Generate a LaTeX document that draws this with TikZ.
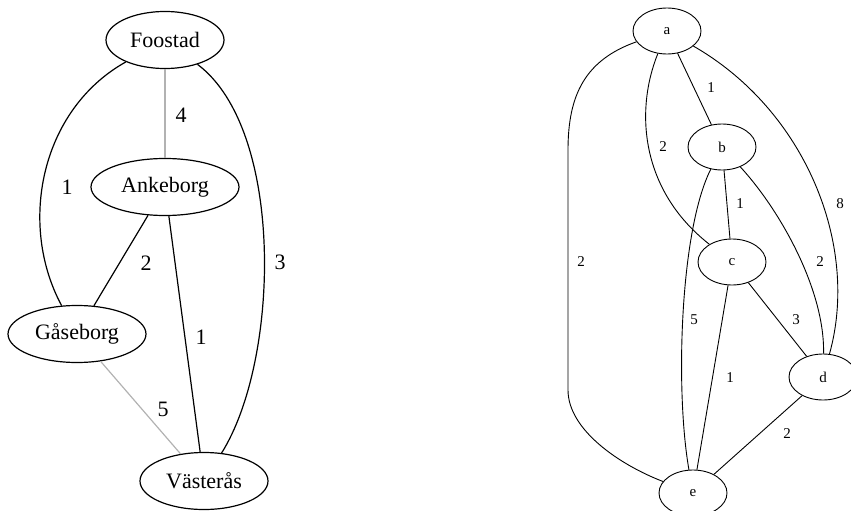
\documentclass[tikz,border=0pt]{standalone}
\usepackage{fontspec}
\setmainfont{Liberation Serif}
\usetikzlibrary{shapes.geometric}

\begin{document}
\begin{tikzpicture}[x=1pt, y=1pt,
  town/.style={ellipse, draw, line width=1.2pt, inner sep=0pt, minimum height=57pt,
               font=\fontsize{22}{26}\selectfont},
  road/.style={line width=1.2pt},
  lightroad/.style={line width=1.2pt, black!30},
  wlabel/.style={font=\fontsize{22}{26}\selectfont},
  vertex/.style={ellipse, draw, line width=0.9pt, inner sep=0pt, minimum width=68pt,
                 minimum height=46pt, font=\fontsize{15}{18}\selectfont},
  arc/.style={line width=0.9pt},
  alabel/.style={font=\fontsize{15}{18}\selectfont}]

\useasboundingbox (0,0) rectangle (851,-511);

%------------------ LEFT GRAPH (towns) ------------------%
\begin{scope}
  \node[town, minimum width=118pt] (foostad)  at (165,-40)  {Foostad};
  \node[town, minimum width=148pt] (ankeborg) at (165,-187) {Ankeborg};
  \node[town, minimum width=138pt] (gaseborg) at (77,-334)  {Gåseborg};
  \node[town, minimum width=128pt] (vasteras) at (204,-481) {Västerås};

  \draw[lightroad] (foostad) -- (ankeborg);
  \draw[road] (foostad) .. controls (40,-110) and (18,-225) .. (gaseborg);
  \draw[road] (foostad) .. controls (285,-130) and (280,-360) .. (vasteras);
  \draw[road] (ankeborg) -- (gaseborg);
  \draw[road] (ankeborg) -- (vasteras);
  \draw[lightroad] (gaseborg) -- (vasteras);

  \node[wlabel] (wFA) at (181,-115) {4};
  \node[wlabel] (wFG) at (67,-187)  {1};
  \node[wlabel] (wFV) at (280,-262) {3};
  \node[wlabel] (wAG) at (146,-263) {2};
  \node[wlabel] (wAV) at (201,-337) {1};
  \node[wlabel] (wGV) at (163,-409) {5};
\end{scope}

%------------------ RIGHT GRAPH (a to e) ------------------%
\begin{scope}
  \node[vertex] (a) at (667,-31)  {a};
  \node[vertex] (b) at (722,-147) {b};
  \node[vertex] (c) at (732,-262) {c};
  \node[vertex] (d) at (823,-377) {d};
  \node[vertex] (e) at (693,-493) {e};

  \draw[arc] (a) -- (b);
  \draw[arc] (a) .. controls (635,-110) and (640,-190) .. (c);
  \draw[arc] (a) .. controls (585,-60) and (568,-95) .. (568,-150)
                 -- (568,-390) .. controls (568,-430) and (620,-465) .. (e);
  \draw[arc] (a) .. controls (805,-110) and (860,-245) .. (d);
  \draw[arc] (b) -- (c);
  \draw[arc] (b) .. controls (780,-210) and (825,-290) .. (d);
  \draw[arc] (b) .. controls (680,-230) and (675,-390) .. (e);
  \draw[arc] (c) -- (d);
  \draw[arc] (c) -- (e);
  \draw[arc] (d) -- (e);

  \node[alabel] (lab) at (711,-88)  {1};
  \node[alabel] (lac) at (663,-147) {2};
  \node[alabel] (lae) at (581,-262) {2};
  \node[alabel] (lad) at (840,-204) {8};
  \node[alabel] (lbc) at (740,-204) {1};
  \node[alabel] (lbd) at (820,-262) {2};
  \node[alabel] (lbe) at (694,-320) {5};
  \node[alabel] (lcd) at (796,-320) {3};
  \node[alabel] (lce) at (730,-378) {1};
  \node[alabel] (lde) at (787,-434) {2};
\end{scope}

\end{tikzpicture}
\end{document}
